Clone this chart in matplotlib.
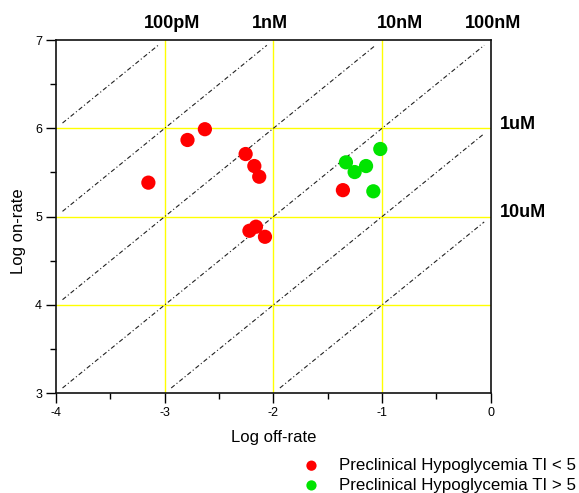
import matplotlib
matplotlib.use("Agg")
import matplotlib.pyplot as plt
import matplotlib.transforms as mtransforms
import numpy as np

plt.rcParams['font.family'] = ['Liberation Sans', 'DejaVu Sans']

# Data (log off-rate, log on-rate)
red_koff = [-3.15, -2.79, -2.63, -2.255, -2.175, -2.13, -2.22, -2.16, -2.077, -1.36]
red_kon = [5.385, 5.868, 5.99, 5.709, 5.573, 5.452, 4.84, 4.886, 4.772, 5.30]
green_koff = [-1.332, -1.252, -1.147, -1.016, -1.08]
green_kon = [5.615, 5.505, 5.573, 5.766, 5.287]

red_label = "Preclinical Hypoglycemia TI < 5"
green_label = "Preclinical Hypoglycemia TI > 5"

# Iso-affinity lines: log KD values
kd_logs = [-10, -9, -8, -7, -6, -5]
top_labels = ["100pM", "1nM", "10nM", "100nM"]
top_label_x = [-2.93, -2.03, -0.83, 0.02]
right_labels = ["1uM", "10uM"]
right_label_y = [6.04, 5.05]

grid_x = [-3, -2, -1]
grid_y = [4, 5, 6]

xmin, xmax, ymin, ymax = -4, 0, 3, 7

W, H = 579, 493
fig = plt.figure(figsize=(W / 100, H / 100), dpi=100)
ax = fig.add_axes([56 / W, 1 - 393.3 / H, (490.7 - 56) / W, (393.3 - 40) / H])

for gx in grid_x:
    ax.axvline(gx, color='#ffff00', lw=1.0, zorder=1)
for gy in grid_y:
    ax.axhline(gy, color='#ffff00', lw=1.0, zorder=1)

# diagonal lines y = x - logKD, clipped to box, slightly inset
inset = 0.06
for kd in kd_logs:
    c = -kd
    x0 = max(xmin, ymin - c)
    x1 = min(xmax, ymax - c)
    xs = np.array([x0 + inset, x1 - inset])
    ax.plot(xs, xs + c, color='#222222', lw=0.8,
            linestyle=(0, (4, 2.2, 1, 2.2)), zorder=2)

ax.scatter(red_koff, red_kon, s=105, color='#ff0000', edgecolors='none',
           zorder=3, label=red_label)
ax.scatter(green_koff, green_kon, s=105, color='#00e400', edgecolors='none',
           zorder=3, label=green_label)

ax.set_xlim(xmin, xmax)
ax.set_ylim(ymin, ymax)
ax.set_xticks([-4, -3, -2, -1, 0])
ax.set_xticklabels(['-4', '-3', '-2', '-1', '0'])
ax.set_yticks([3, 4, 5, 6, 7])
ax.set_xticks(np.arange(-3.5, 0, 1.0), minor=True)
ax.set_yticks(np.arange(3.5, 7, 1.0), minor=True)
ax.tick_params(axis='both', which='major', direction='out', length=7, width=1,
               labelsize=9, pad=3)
ax.tick_params(axis='both', which='minor', direction='out', length=4, width=1)
ax.tick_params(top=False, right=False)
for sp in ax.spines.values():
    sp.set_linewidth(1.2)
    sp.set_color('#111111')

ax.set_xlabel("Log off-rate", fontsize=12)
ax.set_ylabel("Log on-rate", fontsize=12)
ax.xaxis.set_label_coords(0.5, -0.105)
ax.yaxis.set_label_coords(-0.068, 0.46)

trans_top = mtransforms.blended_transform_factory(ax.transData, fig.transFigure)
for lab, x in zip(top_labels, top_label_x):
    ax.text(x, 1 - 24 / H, lab, transform=trans_top, ha='center', va='center',
            fontsize=13, fontweight='bold')
trans_right = mtransforms.blended_transform_factory(fig.transFigure, ax.transData)
for lab, y in zip(right_labels, right_label_y):
    ax.text(500 / W, y, lab, transform=trans_right, ha='left', va='center',
            fontsize=13, fontweight='bold')

handles, labels = ax.get_legend_handles_labels()
leg = fig.legend(handles, labels, loc='center left',
                 bbox_to_anchor=(303 / W, 1 - 475.5 / H),
                 frameon=False, fontsize=12.2, handlelength=1.0,
                 handletextpad=1.1, borderpad=0, borderaxespad=0,
                 labelspacing=0.28, markerscale=0.72)

fig.savefig("out.png", dpi=100)
